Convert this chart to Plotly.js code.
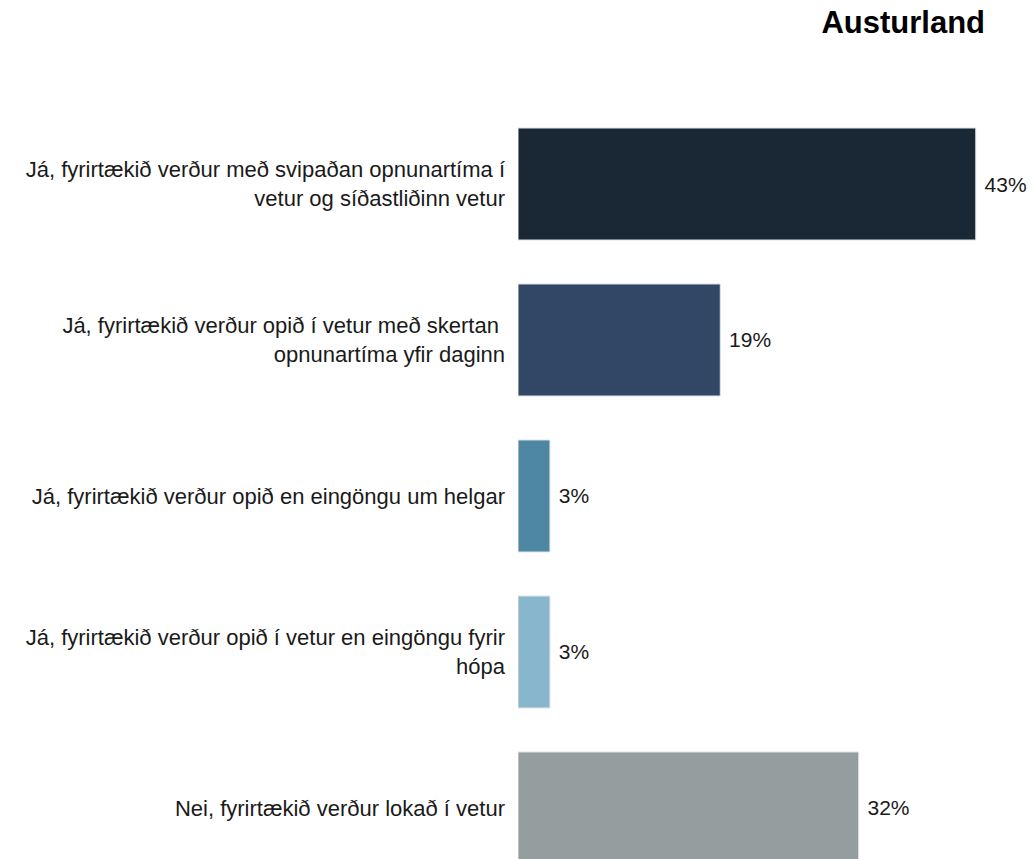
<!DOCTYPE html>
<html>
<head>
<meta charset="utf-8">
<script src="https://cdn.plot.ly/plotly-3.0.1.min.js"></script>
<style>html,body{margin:0;padding:0;background:#fff;}#chart{width:1035px;height:859px;}</style>
</head>
<body>
<div id="chart"></div>
<script>
const categories = [
  "Já, fyrirtækið verður með svipaðan opnunartíma í<br>vetur og síðastliðinn vetur",
  "Já, fyrirtækið verður opið í vetur með skertan\u00a0<br>opnunartíma yfir daginn",
  "Já, fyrirtækið verður opið en eingöngu um helgar",
  "Já, fyrirtækið verður opið í vetur en eingöngu fyrir<br>hópa",
  "Nei, fyrirtækið verður lokað í vetur"
];
const values = [43, 19, 3, 3, 32];
const valueLabels = ["43%", "19%", "3%", "3%", "32%"];
const colors = ["#1a2735", "#324666", "#4e87a3", "#88b7cd", "#959d9f"];
const chartTitle = "Austurland";

const trace = {
  type: "bar",
  orientation: "h",
  x: values,
  y: categories,
  text: valueLabels.map(t => "\u00a0" + t),
  textposition: "outside",
  cliponaxis: false,
  textfont: {family: "Liberation Sans, Arial, sans-serif", size: 21, color: "#1a1a1a"},
  marker: {color: colors, line: {color: "#dfe3e6", width: 1}},
  hoverinfo: "none"
};

const layout = {
  width: 1035,
  height: 859,
  margin: {l: 518, r: 6, t: 106, b: 0},
  paper_bgcolor: "#ffffff",
  plot_bgcolor: "#ffffff",
  showlegend: false,
  bargap: 0.282,
  uniformtext: {mode: false},
  font: {family: "Liberation Sans, Arial, sans-serif", color: "#1a1a1a"},
  title: {
    text: "<b>" + chartTitle + "</b>",
    x: 0.914, xanchor: "right", xref: "paper",
    y: 0.974, yanchor: "middle", yref: "container",
    font: {family: "Liberation Sans, Arial, sans-serif", size: 31, color: "#000000"}
  },
  xaxis: {
    range: [0, 48],
    visible: false,
    showgrid: false,
    zeroline: false,
    fixedrange: true
  },
  yaxis: {
    type: "category",
    range: [4.327, -0.5],
    showgrid: false,
    zeroline: false,
    showline: false,
    ticks: "",
    ticklabelstandoff: 12,
    tickfont: {family: "Liberation Sans, Arial, sans-serif", size: 22, color: "#1a1a1a"},
    fixedrange: true
  }
};

Plotly.newPlot("chart", [trace], layout, {displayModeBar: false, staticPlot: true});
</script>
</body>
</html>
